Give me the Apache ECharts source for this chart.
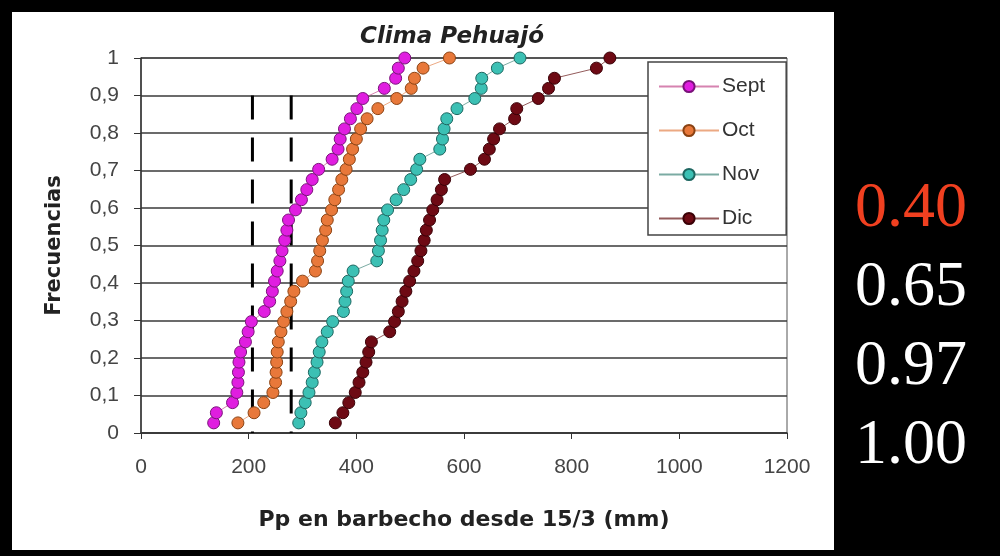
<!DOCTYPE html>
<html><head><meta charset="utf-8">
<script src="https://cdn.jsdelivr.net/npm/echarts@6/dist/echarts.min.js"></script>
<style>
html,body{margin:0;padding:0;background:#000;}
#panel{position:absolute;left:12px;top:12px;width:822px;height:538px;background:#fff;}
#c{position:absolute;left:0;top:0;width:1000px;height:556px;}
</style>
</head><body>
<div id="panel"></div>
<div id="c"></div>
<script>
// cumulative frequency levels (y)
const frequencies = [0.027,0.054,0.081,0.108,0.135,0.162,0.189,0.216,0.243,0.270,0.297,0.324,0.351,0.378,0.405,0.432,0.459,0.486,0.514,0.541,0.568,0.595,0.622,0.649,0.676,0.703,0.730,0.757,0.784,0.811,0.838,0.865,0.892,0.919,0.946,0.973,1.000];
// rainfall (mm) per month
const sept = [135,140,170,178,180,181,182,185,194,199,205,229,239,244,248,253,258,262,267,271,274,287,298,308,318,330,355,366,370,378,389,401,412,452,473,478,490];
const oct  = [180,210,228,245,250,251,252,253,255,260,265,271,278,284,300,324,328,332,337,343,346,354,360,367,373,381,387,393,400,408,420,440,475,502,508,524,573];
const nov  = [293,297,305,312,318,322,327,331,336,346,356,376,379,382,385,394,438,441,445,448,451,458,474,488,501,512,518,555,560,563,568,587,620,632,633,662,704];
const dic  = [361,375,386,398,405,412,418,423,428,462,471,478,485,492,499,507,514,520,526,530,536,542,550,558,564,612,638,647,655,666,694,698,738,757,768,846,871];
const seriesNames = ['Sept','Oct','Nov','Dic'];
const xTickLabels = ['0','200','400','600','800','1000','1200'];
const yTickLabels = ['0','0,1','0,2','0,3','0,4','0,5','0,6','0,7','0,8','0,9','1'];
const dashedX = [207, 279];
const dashedTop = 0.9;
const sideValues = ['0.40','0.65','0.97','1.00'];

const colors = {
  Sept: {fill:'#e01ee0', border:'#7a127a', line:'rgba(200,90,150,0.75)'},
  Oct:  {fill:'#e8783a', border:'#8a4212', line:'rgba(230,140,90,0.75)'},
  Nov:  {fill:'#3cc0b4', border:'#1d6660', line:'rgba(90,150,140,0.8)'},
  Dic:  {fill:'#6e0a14', border:'#3a0006', line:'rgba(120,50,50,0.8)'}
};
const values = {Sept: sept, Oct: oct, Nov: nov, Dic: dic};

const series = seriesNames.map(name => ({
  name: name,
  type: 'line',
  data: values[name].map((v, i) => [v, frequencies[i]]),
  symbol: 'circle',
  symbolSize: 12,
  itemStyle: {color: colors[name].fill, borderColor: colors[name].border, borderWidth: 1},
  lineStyle: {color: colors[name].line, width: 1},
  emphasis: {disabled: true},
  animation: false
}));
dashedX.forEach(x => {
  series.push({
    type: 'line',
    data: [[x, dashedTop], [x, 0]],
    symbol: 'none',
    lineStyle: {color: '#000', width: 3, type: [24, 18]},
    silent: true,
    animation: false,
    z: 1
  });
});

const chart = echarts.init(document.getElementById('c'), null, {renderer: 'canvas'});
chart.setOption({
  backgroundColor: 'transparent',
  animation: false,
  title: {
    text: 'Clima Pehuajó',
    left: 447, top: 21, textAlign: 'center',
    textStyle: {fontFamily: 'DejaVu Sans', fontWeight: 'bold', fontStyle: 'italic', fontSize: 23, color: '#222'}
  },
  grid: {left: 141, top: 58, right: 213, bottom: 123, show: true, borderColor: '#555', borderWidth: 1, backgroundColor: 'transparent'},
  legend: {
    data: seriesNames,
    orient: 'vertical',
    left: 648, top: 62,
    padding: [14, 21, 6, 10],
    itemWidth: 60, itemHeight: 14, itemGap: 23,
    backgroundColor: '#fff',
    borderColor: '#444', borderWidth: 1.5, borderRadius: 0,
    textStyle: {fontFamily: 'Liberation Sans', fontSize: 21, color: '#333', padding: [0,0,0,-2]},
    selectedMode: false
  },
  xAxis: {
    type: 'value', min: 0, max: 1200, interval: 200,
    name: 'Pp en barbecho desde 15/3 (mm)',
    nameLocation: 'middle', nameGap: 76,
    nameTextStyle: {fontFamily: 'DejaVu Sans', fontWeight: 'bold', fontSize: 22, color: '#222'},
    axisLine: {show: true, lineStyle: {color: '#333', width: 1.5}},
    axisTick: {show: true, inside: false, length: 6, lineStyle: {color: '#333'}},
    axisLabel: {margin: 24, fontFamily: 'Liberation Sans', fontSize: 21, color: '#444',
      formatter: v => xTickLabels[Math.round(v / 200)]},
    splitLine: {show: false}
  },
  yAxis: {
    type: 'value', min: 0, max: 1, interval: 0.1,
    name: 'Frecuencias',
    nameLocation: 'middle', nameGap: 76,
    nameTextStyle: {fontFamily: 'DejaVu Sans', fontWeight: 'bold', fontSize: 21, color: '#222'},
    axisLine: {show: true, lineStyle: {color: '#333', width: 1.5}},
    axisTick: {show: true, inside: false, length: 7, lineStyle: {color: '#333'}},
    axisLabel: {margin: 22, fontFamily: 'Liberation Sans', fontSize: 21, color: '#444',
      formatter: v => yTickLabels[Math.round(v * 10)]},
    splitLine: {show: true, lineStyle: {color: '#3a3a3a', width: 1.5}}
  },
  series: series,
  graphic: sideValues.map((t, i) => ({
    type: 'text',
    left: 855,
    top: 177 + i * 79,
    silent: true,
    style: {
      text: t,
      font: '64px "Liberation Serif"',
      fill: i === 0 ? '#f04020' : '#ffffff'
    }
  }))
});
</script>
</body></html>
